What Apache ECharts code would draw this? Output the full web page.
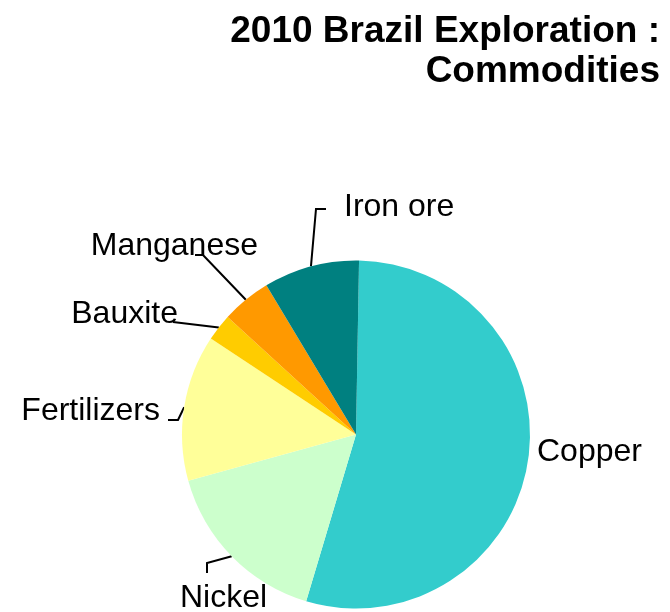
<!DOCTYPE html>
<html>
<head>
<meta charset="utf-8">
<script src="https://cdn.jsdelivr.net/npm/echarts@6/dist/echarts.min.js"></script>
<style>
  html, body { margin: 0; padding: 0; background: #ffffff; }
  #chart { width: 670px; height: 612px; }
</style>
</head>
<body>
<div id="chart"></div>
<script>
// Share of 2010 exploration spending in Brazil, by commodity (%)
const commodities = ['Copper', 'Nickel', 'Fertilizers', 'Bauxite', 'Manganese', 'Iron ore'];
const shares = [54.4, 16.1, 13.6, 2.5, 4.6, 8.9];
const sliceColors = ['#33CCCC', '#CCFFCC', '#FFFF99', '#FFCC00', '#FF9900', '#008080'];
const titleLines = ['2010 Brazil Exploration :', 'Commodities'];

// Label placement: anchor point, alignment, and leader-line bends (offsets from the anchor)
const labelPlacement = {
  'Copper':      { x: 537, y: 452, align: 'left',  bends: null },
  'Nickel':      { x: 180, y: 598, align: 'left',  bends: [[27, -35], [27, -25]] },
  'Fertilizers': { x: 160, y: 411, align: 'right', bends: [[18, 9], [8, 9]] },
  'Bauxite':     { x: 178, y: 314, align: 'right', bends: [[-5, 8]] },
  'Manganese':   { x: 258, y: 246, align: 'right', bends: [[-55, 9], [-63, 9]] },
  'Iron ore':    { x: 344, y: 207, align: 'left',  bends: [[-28, 2], [-18, 2]] }
};

const chart = echarts.init(document.getElementById('chart'), null, { renderer: 'canvas' });

const option = {
  backgroundColor: '#ffffff',
  animation: false,
  // Right-aligned two-line heading
  graphic: [{
    type: 'text',
    x: 660,
    y: 12,
    silent: true,
    style: {
      text: titleLines.join('\n'),
      align: 'right',
      verticalAlign: 'top',
      fontFamily: 'Liberation Sans, Arial, sans-serif',
      fontSize: 37,
      fontWeight: 'bold',
      lineHeight: 40,
      fill: '#000000'
    }
  }],
  series: [{
    type: 'pie',
    center: [356, 434.5],
    radius: 174,
    startAngle: 89,
    clockwise: true,
    avoidLabelOverlap: false,
    itemStyle: { borderWidth: 0 },
    emphasis: { disabled: true },
    label: {
      show: true,
      position: 'outside',
      formatter: '{b}',
      fontFamily: 'Liberation Sans, Arial, sans-serif',
      fontSize: 32,
      color: '#000000'
    },
    labelLine: {
      show: true,
      length: 10,
      length2: 10,
      lineStyle: { color: '#000000', width: 2 }
    },
    labelLayout: function (params) {
      const name = commodities[params.dataIndex];
      const p = labelPlacement[name];
      const out = { x: p.x, y: p.y, align: p.align, verticalAlign: 'middle' };
      if (p.bends && params.labelLinePoints) {
        const start = params.labelLinePoints[0];
        out.labelLinePoints = [start].concat(p.bends.map(b => [p.x + b[0], p.y + b[1]]));
      }
      return out;
    },
    data: commodities.map((name, i) => ({
      name: name,
      value: shares[i],
      itemStyle: { color: sliceColors[i] },
      labelLine: { show: labelPlacement[name].bends !== null }
    }))
  }]
};

chart.setOption(option);
</script>
</body>
</html>
